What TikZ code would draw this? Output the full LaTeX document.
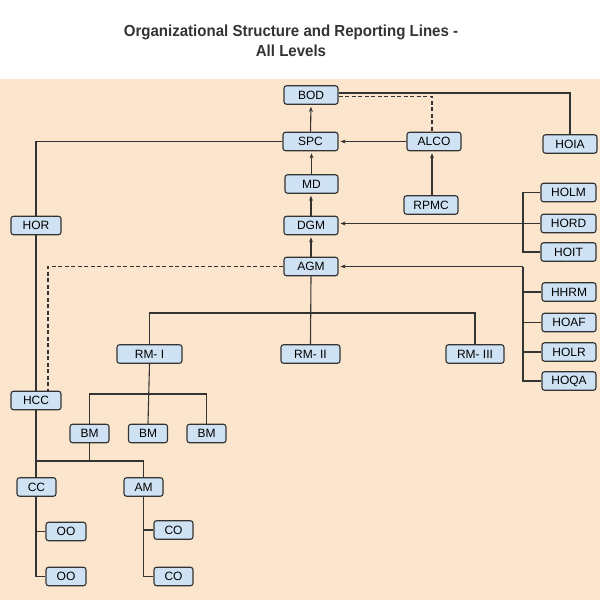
\documentclass[tikz,border=0pt]{standalone}
\usepackage{fontspec}
\setmainfont{Liberation Sans}
\newfontfamily\titlefont[FakeStretch=0.94]{Liberation Sans}
\usetikzlibrary{arrows.meta}
\definecolor{peach}{HTML}{FCE5CD}
\definecolor{boxfill}{HTML}{CFE2F3}
\definecolor{linec}{HTML}{333333}
\tikzset{
  box/.style={draw=linec, fill=boxfill, rounded corners=2.5pt, line width=1.1pt,
    minimum height=18.5pt, inner sep=0pt, font=\fontsize{12}{14}\selectfont, text=black},
  conn/.style={draw=linec, line width=1.1pt},
  arr/.style={conn, -{Stealth[length=5pt,width=4pt]}, shorten >=2pt},
  dashline/.style={conn, dash pattern=on 4pt off 2.5pt}
}
\begin{document}
\begin{tikzpicture}[x=1pt,y=-1pt]
\useasboundingbox (0,0) rectangle (600,600);
\fill[white] (0,0) rectangle (600,600);
\fill[peach] (0,79) rectangle (600,600);
\node[font=\titlefont\bfseries\fontsize{16}{19.5}\selectfont, text=linec, align=center] (title) at (291,41)
  {Organizational Structure and Reporting Lines -\\All Levels};

% nodes
\node[box, minimum width=54pt] (BOD) at (311,95) {BOD};
\node[box, minimum width=55pt] (SPC) at (310.5,141.5) {SPC};
\node[box, minimum width=54pt] (ALCO) at (434,141.5) {ALCO};
\node[box, minimum width=54pt] (HOIA) at (570,144) {HOIA};
\node[box, minimum width=53pt] (MD) at (311.5,184) {MD};
\node[box, minimum width=54pt] (RPMC) at (431,205) {RPMC};
\node[box, minimum width=54pt] (DGM) at (311,225.5) {DGM};
\node[box, minimum width=55pt] (HOLM) at (568.5,192.5) {HOLM};
\node[box, minimum width=55pt] (HORD) at (568.5,223.5) {HORD};
\node[box, minimum width=55pt] (HOIT) at (568.5,252) {HOIT};
\node[box, minimum width=54pt] (AGM) at (311,266.5) {AGM};
\node[box, minimum width=50pt] (HOR) at (36,225.5) {HOR};
\node[box, minimum width=54pt] (HHRM) at (569,292) {HHRM};
\node[box, minimum width=54pt] (HOAF) at (569,322.5) {HOAF};
\node[box, minimum width=54pt] (HOLR) at (569,352) {HOLR};
\node[box, minimum width=54pt] (HOQA) at (569,381) {HOQA};
\node[box, minimum width=65pt] (RM1) at (149.5,354) {RM- I};
\node[box, minimum width=59pt] (RM2) at (310.5,354) {RM- II};
\node[box, minimum width=58pt] (RM3) at (475,354) {RM- III};
\node[box, minimum width=50pt] (HCC) at (36,400.5) {HCC};
\node[box, minimum width=39pt] (BM1) at (89.5,433.5) {BM};
\node[box, minimum width=39pt] (BM2) at (148,433.5) {BM};
\node[box, minimum width=39pt] (BM3) at (206.5,433.5) {BM};
\node[box, minimum width=39pt] (CC) at (36.5,487) {CC};
\node[box, minimum width=39pt] (AM) at (143.5,487) {AM};
\node[box, minimum width=40pt] (OO1) at (66,531.5) {OO};
\node[box, minimum width=40pt] (OO2) at (66,576.5) {OO};
\node[box, minimum width=39pt] (CO1) at (173.5,530) {CO};
\node[box, minimum width=39pt] (CO2) at (173.5,576.5) {CO};

% helper coordinates
\coordinate (bx) at (523,0);
\coordinate (bus1) at (0,313);
\coordinate (bus2) at (0,394);
\coordinate (bus3) at (0,461);
\coordinate (dx) at (48,0);

% top chain
\draw[arr] (SPC.north) -- (BOD.south);
\draw[arr] (MD.north) -- (MD.north |- SPC.south);
\draw[arr] (DGM.north) -- (DGM.north |- MD.south);
\draw[arr] (AGM.north) -- (DGM.south);
\draw[arr] (ALCO.west) -- (SPC.east);
\draw[arr] ([xshift=1pt]RPMC.north) -- ([xshift=-2pt]ALCO.south);
\draw[conn] ([yshift=2pt]BOD.east) -| (HOIA.north);
\draw[dashline] ([yshift=-1.5pt]BOD.east) -| ([xshift=-2pt]ALCO.north);

% left branch
\draw[conn] (SPC.west) -| (HOR.north);
\draw[conn] (HOR.south) -- (HCC.north);
\draw[dashline] (AGM.west) -- (AGM.west -| dx) -- (HCC.north -| dx);

% right groups
\draw[conn] (HOLM.west) -- (HOLM.west -| bx) -- (HOIT.west -| bx) -- (HOIT.west);
\draw[arr] (HORD.west) -- (HORD.west -| DGM.east);
\draw[arr] (AGM.east -| bx) -- (AGM.east);
\draw[conn] (AGM.east -| bx) -- (HOQA.west -| bx) -- (HOQA.west);
\draw[conn] (HHRM.west -| bx) -- (HHRM.west);
\draw[conn] (HOAF.west -| bx) -- (HOAF.west);
\draw[conn] (HOLR.west -| bx) -- (HOLR.west);

% regional managers
\draw[conn] (AGM.south) -- (RM2.north);
\draw[conn] (RM1.north) -- (RM1.north |- bus1) -- (RM3.north |- bus1) -- (RM3.north);

% branch managers
\draw[conn] (RM1.south) -- (BM2.north);
\draw[conn] (BM1.north) -- (BM1.north |- bus2) -- (BM3.north |- bus2) -- (BM3.north);

% lower levels
\draw[conn] (HCC.south) -- (HCC.south |- CC.north);
\draw[conn] (BM1.south) -- (BM1.south |- bus3);
\draw[conn] (HCC.south |- bus3) -- (AM.north |- bus3) -- (AM.north);
\draw[conn] (HCC.south |- CC.south) -- (HCC.south |- OO2.west) -- (OO2.west);
\draw[conn] (HCC.south |- OO1.west) -- (OO1.west);
\draw[conn] (AM.south) -- (AM.south |- CO2.west) -- (CO2.west);
\draw[conn] (AM.south |- CO1.west) -- (CO1.west);
\end{tikzpicture}
\end{document}
